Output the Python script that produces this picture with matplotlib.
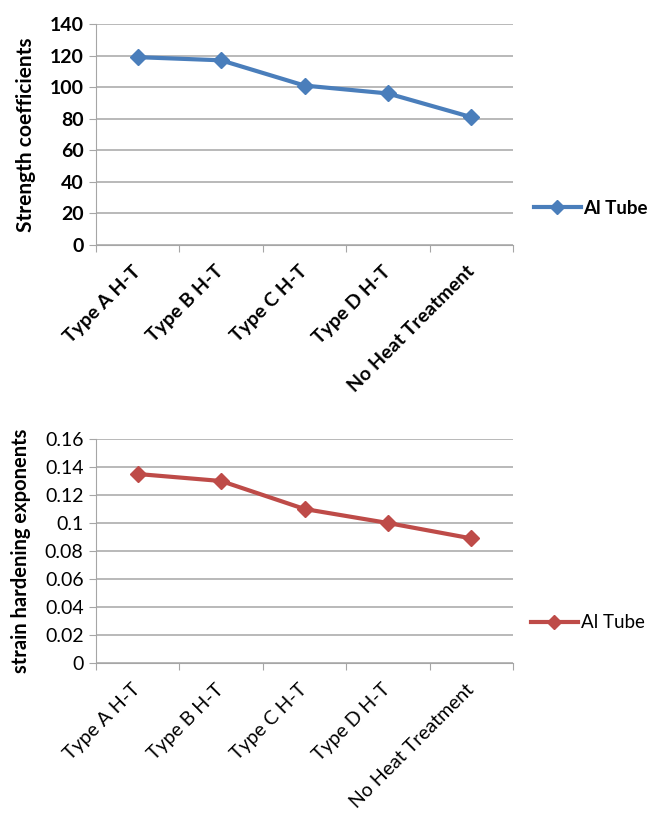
import matplotlib.pyplot as plt
import numpy as np

plt.rcParams['font.family'] = ['Lato', 'DejaVu Sans']

categories = ['Type A H-T', 'Type B H-T', 'Type C H-T', 'Type D H-T', 'No Heat Treatment']
strength = [119, 117, 101, 96, 81]
hardening = [0.135, 0.13, 0.11, 0.1, 0.089]
series_name = 'Al Tube'

top_ticks = [0, 20, 40, 60, 80, 100, 120, 140]
top_labels = ['0', '20', '40', '60', '80', '100', '120', '140']
bottom_ticks = [0, 0.02, 0.04, 0.06, 0.08, 0.1, 0.12, 0.14, 0.16]
bottom_labels = ['0', '0.02', '0.04', '0.06', '0.08', '0.1', '0.12', '0.14', '0.16']

fig = plt.figure(figsize=(6.64, 8.15), dpi=100)
W, H = 664, 815
GRID = '#a6a6a6'


def make_axes(left, right, top, bottom):
    return fig.add_axes([left / W, 1 - bottom / H, (right - left) / W, (bottom - top) / H])


def draw(ax, data, yticks, ylabels, ylabel, bold, color, ylab_x, ylab_size, leg_xy):
    x = np.arange(len(categories))
    weight = 'bold' if bold else 'normal'
    ax.plot(x, data, color=color, lw=3, marker='D', ms=8, label=series_name)
    ax.set_xlim(-0.5, len(categories) - 0.5)
    ax.set_ylim(yticks[0], yticks[-1])
    ax.set_yticks(yticks)
    ax.set_yticklabels(ylabels, fontsize=14, fontweight=weight)
    ax.yaxis.grid(True, color=GRID, lw=1.1)
    ax.set_axisbelow(True)
    for s in ['top', 'right']:
        ax.spines[s].set_visible(False)
    ax.spines['left'].set_color(GRID)
    ax.spines['bottom'].set_color(GRID)
    ax.tick_params(axis='y', length=5, color=GRID, pad=4)
    # ticks between categories, like a spreadsheet chart
    ax.set_xticks(np.arange(len(categories) + 1) - 0.5)
    ax.set_xticklabels([''] * (len(categories) + 1))
    ax.tick_params(axis='x', length=5, color=GRID, direction='out')
    ax.set_xticks(x, minor=True)
    ax.set_xticklabels(categories, minor=True, rotation=45, ha='right', va='center',
                       rotation_mode='anchor', fontsize=14, fontweight=weight)
    ax.tick_params(axis='x', which='minor', length=0, pad=17)
    ax.set_ylabel(ylabel, fontsize=ylab_size, fontweight='bold')
    ax.yaxis.set_label_coords(ylab_x, 0.5)
    ax.legend(loc='center left', bbox_to_anchor=leg_xy, frameon=False,
              borderaxespad=0, borderpad=0, handlelength=2.5, handletextpad=0.15,
              markerscale=0.85, prop={'size': 13.5, 'weight': weight})


ax1 = make_axes(96, 513, 24, 245)
draw(ax1, strength, top_ticks, top_labels, 'Strength coefficients', True,
     '#4a7ebb', -0.145, 15, (1.05, 0.167))

ax2 = make_axes(96, 513, 439, 663)
draw(ax2, hardening, bottom_ticks, bottom_labels, 'strain hardening exponents', False,
     '#be4b48', -0.157, 14.5, (1.043, 0.179))

fig.savefig('out.png', dpi=100)
